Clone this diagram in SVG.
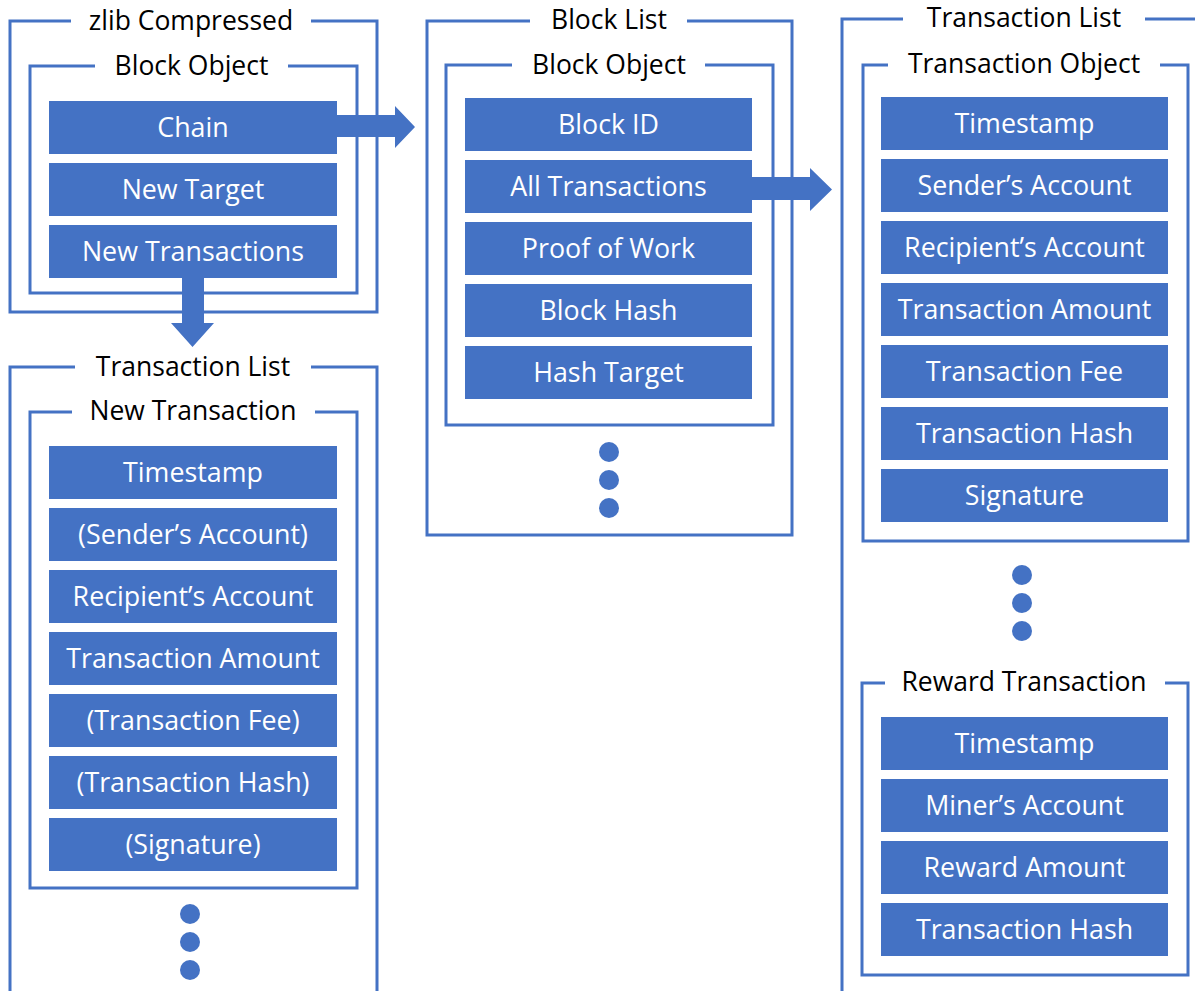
<svg xmlns="http://www.w3.org/2000/svg" width="1195" height="991" viewBox="0 0 1195 991">
<style>
.frame{fill:none;stroke:#4472C4;stroke-width:3}
.field{fill:#4472C4}
.dot{fill:#4472C4}
.arrow{fill:#4472C4}
.title{font-family:"Open Sans","Liberation Sans",sans-serif;font-size:26.5px;fill:#000;text-anchor:middle}
.label{font-family:"Open Sans","Liberation Sans",sans-serif;font-size:26.8px;fill:#fff;text-anchor:middle}
</style>
<rect width="1195" height="991" fill="#fff"/>

<g id="zlib-compressed">
<path class="frame" d="M71,21 H10 V312 H377 V21 H311"/>
<text class="title" x="191" y="30">zlib Compressed</text>
</g>
<g id="block-object-left">
<path class="frame" d="M95,66 H30 V293 H357 V66 H288"/>
<text class="title" x="191.5" y="75">Block Object</text>
<rect class="field" x="49" y="101" width="288" height="53"/>
<text class="label" x="193" y="137">Chain</text>
<rect class="field" x="49" y="163" width="288" height="53"/>
<text class="label" x="193" y="199">New Target</text>
<rect class="field" x="49" y="225" width="288" height="53"/>
<text class="label" x="193" y="261">New Transactions</text>
</g>

<g id="transaction-list-left">
<path class="frame" d="M75,367 H10 V995 M377,995 V367 H311"/>
<text class="title" x="193" y="376">Transaction List</text>
<circle class="dot" cx="190" cy="914" r="10"/>
<circle class="dot" cx="190" cy="942" r="10"/>
<circle class="dot" cx="190" cy="970" r="10"/>
</g>
<g id="new-transaction">
<path class="frame" d="M72,412 H30 V888 H357 V412 H315"/>
<text class="title" x="193" y="420">New Transaction</text>
<rect class="field" x="49" y="446" width="288" height="53"/>
<text class="label" x="193" y="482">Timestamp</text>
<rect class="field" x="49" y="508" width="288" height="53"/>
<text class="label" x="193" y="544">(Sender’s Account)</text>
<rect class="field" x="49" y="570" width="288" height="53"/>
<text class="label" x="193" y="606">Recipient’s Account</text>
<rect class="field" x="49" y="632" width="288" height="53"/>
<text class="label" x="193" y="668">Transaction Amount</text>
<rect class="field" x="49" y="694" width="288" height="53"/>
<text class="label" x="193" y="730">(Transaction Fee)</text>
<rect class="field" x="49" y="756" width="288" height="53"/>
<text class="label" x="193" y="792">(Transaction Hash)</text>
<rect class="field" x="49" y="818" width="288" height="53"/>
<text class="label" x="193" y="854">(Signature)</text>
</g>

<g id="block-list">
<path class="frame" d="M530,21 H427 V535 H792 V21 H687"/>
<text class="title" x="609" y="29">Block List</text>
<circle class="dot" cx="609" cy="452" r="10"/>
<circle class="dot" cx="609" cy="480" r="10"/>
<circle class="dot" cx="609" cy="508" r="10"/>
</g>
<g id="block-object-middle">
<path class="frame" d="M512,65 H446 V425 H773 V65 H705"/>
<text class="title" x="609" y="74">Block Object</text>
<rect class="field" x="465" y="98" width="287" height="53"/>
<text class="label" x="608.5" y="134">Block ID</text>
<rect class="field" x="465" y="160" width="287" height="53"/>
<text class="label" x="608.5" y="196">All Transactions</text>
<rect class="field" x="465" y="222" width="287" height="53"/>
<text class="label" x="608.5" y="258">Proof of Work</text>
<rect class="field" x="465" y="284" width="287" height="53"/>
<text class="label" x="608.5" y="320">Block Hash</text>
<rect class="field" x="465" y="346" width="287" height="53"/>
<text class="label" x="608.5" y="382">Hash Target</text>
</g>

<g id="transaction-list-right">
<path class="frame" d="M903,19 H842 V995 M1145,19 H1200"/>
<text class="title" x="1024" y="27">Transaction List</text>
<circle class="dot" cx="1022" cy="575" r="10"/>
<circle class="dot" cx="1022" cy="603" r="10"/>
<circle class="dot" cx="1022" cy="631" r="10"/>
</g>
<g id="transaction-object">
<path class="frame" d="M888,65 H863 V541 H1188 V65 H1160"/>
<text class="title" x="1024" y="73">Transaction Object</text>
<rect class="field" x="881" y="97" width="287" height="53"/>
<text class="label" x="1024.5" y="133">Timestamp</text>
<rect class="field" x="881" y="159" width="287" height="53"/>
<text class="label" x="1024.5" y="195">Sender’s Account</text>
<rect class="field" x="881" y="221" width="287" height="53"/>
<text class="label" x="1024.5" y="257">Recipient’s Account</text>
<rect class="field" x="881" y="283" width="287" height="53"/>
<text class="label" x="1024.5" y="319">Transaction Amount</text>
<rect class="field" x="881" y="345" width="287" height="53"/>
<text class="label" x="1024.5" y="381">Transaction Fee</text>
<rect class="field" x="881" y="407" width="287" height="53"/>
<text class="label" x="1024.5" y="443">Transaction Hash</text>
<rect class="field" x="881" y="469" width="287" height="53"/>
<text class="label" x="1024.5" y="505">Signature</text>
</g>
<g id="reward-transaction">
<path class="frame" d="M885,683 H862 V975 H1188 V683 H1165"/>
<text class="title" x="1024" y="691">Reward Transaction</text>
<rect class="field" x="881" y="717" width="287" height="53"/>
<text class="label" x="1024.5" y="753">Timestamp</text>
<rect class="field" x="881" y="779" width="287" height="53"/>
<text class="label" x="1024.5" y="815">Miner’s Account</text>
<rect class="field" x="881" y="841" width="287" height="53"/>
<text class="label" x="1024.5" y="877">Reward Amount</text>
<rect class="field" x="881" y="903" width="287" height="53"/>
<text class="label" x="1024.5" y="939">Transaction Hash</text>
</g>

<g id="connectors">
<polygon class="arrow" points="336,115 395,115 395,106 415,127 395,148 395,137 336,137"/>
<polygon class="arrow" points="751,177 810,177 810,168 832,189.5 810,211 810,200 751,200"/>
<polygon class="arrow" points="182,277 204,277 204,323 214,323 192.5,347 171,323 182,323"/>
</g>
</svg>
